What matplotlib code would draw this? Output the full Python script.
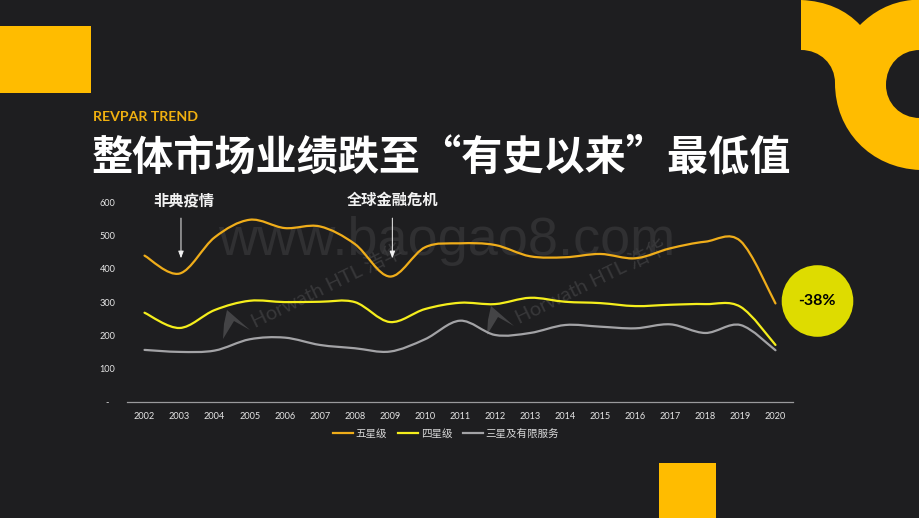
import matplotlib
matplotlib.use("Agg")
import matplotlib.pyplot as plt
from matplotlib.lines import Line2D
from matplotlib.patches import Circle, PathPatch, Polygon, Rectangle
from matplotlib.path import Path

CJK = ["Noto Sans CJK SC", "DejaVu Sans"]
LATIN = ["Lato", "Noto Sans CJK SC", "DejaVu Sans"]

BG = "#1e1e20"
AMBER = "#ffbc00"

years = list(range(2002, 2021))
five_star = [440, 386, 495, 548, 523, 528, 475, 377, 465, 477, 472, 438,
             435, 445, 432, 462, 482, 484, 296]
four_star = [268, 222, 276, 304, 300, 301, 300, 240, 279, 298, 294, 313,
             301, 297, 288, 292, 294, 286, 171]
three_star = [156, 150, 154, 188, 193, 171, 161, 151, 188, 244, 201, 207,
              231, 226, 221, 233, 207, 231, 155]
y_ticks = [0, 100, 200, 300, 400, 500, 600]
y_labels = ["-", "100", "200", "300", "400", "500", "600"]
series_names = ["五星级", "四星级", "三星及有限服务"]
series_colors = ["#efad1a", "#f5ee1c", "#a3a3a6"]


def smooth_path(xs, ys):
    # same kind of smoothing as an office chart: bezier through every point
    verts = [(xs[0], ys[0])]
    codes = [Path.MOVETO]
    n = len(xs)
    for i in range(n - 1):
        x0, y0 = xs[max(i - 1, 0)], ys[max(i - 1, 0)]
        x1, y1 = xs[i], ys[i]
        x2, y2 = xs[i + 1], ys[i + 1]
        x3, y3 = xs[min(i + 2, n - 1)], ys[min(i + 2, n - 1)]
        verts += [(x1 + (x2 - x0) / 6, y1 + (y2 - y0) / 6),
                  (x2 - (x3 - x1) / 6, y2 - (y3 - y1) / 6),
                  (x2, y2)]
        codes += [Path.CURVE4] * 3
    return Path(verts, codes)


fig = plt.figure(figsize=(9.2, 5.18), dpi=100, facecolor=BG)

# slide background layer, in pixels
bg = fig.add_axes([0, 0, 1, 1], zorder=0)
bg.set_xlim(0, 920)
bg.set_ylim(518, 0)
bg.axis("off")

bg.add_patch(Rectangle((0, 26), 91, 67, color=AMBER, lw=0))
bg.add_patch(Rectangle((659, 463), 57, 55, color=AMBER, lw=0))

corner_verts = [(801, 0), (826, 1), (846, 10), (860, 25),
                (873, 12), (890, 2), (912, 0), (920, 0),
                (920, 50), (900, 50), (886, 65), (886, 85),
                (886, 103), (900, 118), (920, 118),
                (920, 170), (870, 168), (835, 130), (835, 83),
                (835, 64), (820, 50), (801, 50), (801, 0)]
corner_codes = [Path.MOVETO, Path.CURVE4, Path.CURVE4, Path.CURVE4,
                Path.CURVE4, Path.CURVE4, Path.CURVE4, Path.LINETO,
                Path.LINETO, Path.CURVE4, Path.CURVE4, Path.CURVE4,
                Path.CURVE4, Path.CURVE4, Path.CURVE4,
                Path.LINETO, Path.CURVE4, Path.CURVE4, Path.CURVE4,
                Path.CURVE4, Path.CURVE4, Path.CURVE4, Path.CLOSEPOLY]
bg.add_patch(PathPatch(Path(corner_verts, corner_codes), fc=AMBER, lw=0))

bg.text(93.5, 117, "REVPAR TREND", color="#f0b010", fontsize=10.2,
        fontweight="bold", family=LATIN, va="center", ha="left")
bg.text(91.5, 157, "整体市场业绩跌至“有史以来”最低值", color="white", fontsize=29.6,
        fontweight="bold", family=CJK, va="center", ha="left")

# watermarks
bg.text(447, 241, "www.baogao8.com", color="#303032", fontsize=39,
        family=["Liberation Sans"], va="center", ha="center")
for x0, y0 in [(226, 310), (490, 306)]:
    bg.add_patch(Polygon([(x0 + 1, y0), (x0 + 24, y0 + 20), (x0 + 8, y0 + 11),
                          (x0 - 3, y0 + 29), (x0 - 2, y0 + 14)],
                         color="#444446", lw=0))
    bg.text(x0 + 26, y0 + 12, "Horwath HTL 浩华", color="#38383a", fontsize=14.5,
            rotation=26, rotation_mode="anchor",
            family=LATIN, va="center", ha="left")

bg.text(184, 200, "非典疫情", color="#f2f2f2", fontsize=11, fontweight="bold",
        family=CJK, va="center", ha="center")
bg.text(392, 200, "全球金融危机", color="#f2f2f2", fontsize=11, fontweight="bold",
        family=CJK, va="center", ha="center")

# chart
ax = fig.add_axes([127 / 920, 1 - 401.7 / 518, 666 / 920, 199.2 / 518], zorder=1)
ax.patch.set_alpha(0)
ax.set_xlim(2001.5, 2020.5)
ax.set_ylim(0, 600)

for values, color in zip([three_star, four_star, five_star], series_colors[::-1]):
    ax.add_patch(PathPatch(smooth_path(years, values), fill=False, ec=color, lw=1.6,
                           capstyle="round", joinstyle="round", clip_on=False))

ax.set_xticks(years)
ax.set_xticklabels([str(y) for y in years])
ax.set_yticks(y_ticks)
ax.set_yticklabels(y_labels)
ax.tick_params(length=0, colors="#e6e6e6", labelsize=6.6, pad=0)
ax.tick_params(axis="x", pad=7.5)
ax.tick_params(axis="y", pad=14)
for label in ax.get_xticklabels() + ax.get_yticklabels():
    label.set_family(LATIN)
for label in ax.get_yticklabels():
    label.set_ha("center")
for side in ["top", "left", "right"]:
    ax.spines[side].set_visible(False)
ax.spines["bottom"].set_color("#9a9a9c")
ax.spines["bottom"].set_linewidth(0.9)

for year in [2003.04, 2009.07]:
    ax.annotate("", xy=(year, 432), xytext=(year, 553),
                arrowprops=dict(arrowstyle="-|>,head_width=0.16,head_length=0.42",
                                color="#f2f2f2", lw=0.7, shrinkA=0, shrinkB=0))

handles = [Line2D([], [], color=c, lw=1.6) for c in series_colors]
ax.legend(handles, series_names, loc="center", bbox_to_anchor=(446 / 920, 1 - 434 / 518),
          bbox_transform=fig.transFigure, ncol=3, frameon=False,
          labelcolor="#d8d8d8", handlelength=1.9, handletextpad=0.25, columnspacing=1.0,
          prop={"family": CJK, "size": 7.6})

# -38% badge
bg.add_patch(Circle((817.5, 301), 35.8, color="#dedc00", lw=0))
bg.text(816.5, 301, "-38%", color="black", fontsize=11.5, fontweight="bold",
        family=LATIN, va="center", ha="center")

fig.savefig("out.png", dpi=100, facecolor=BG)
